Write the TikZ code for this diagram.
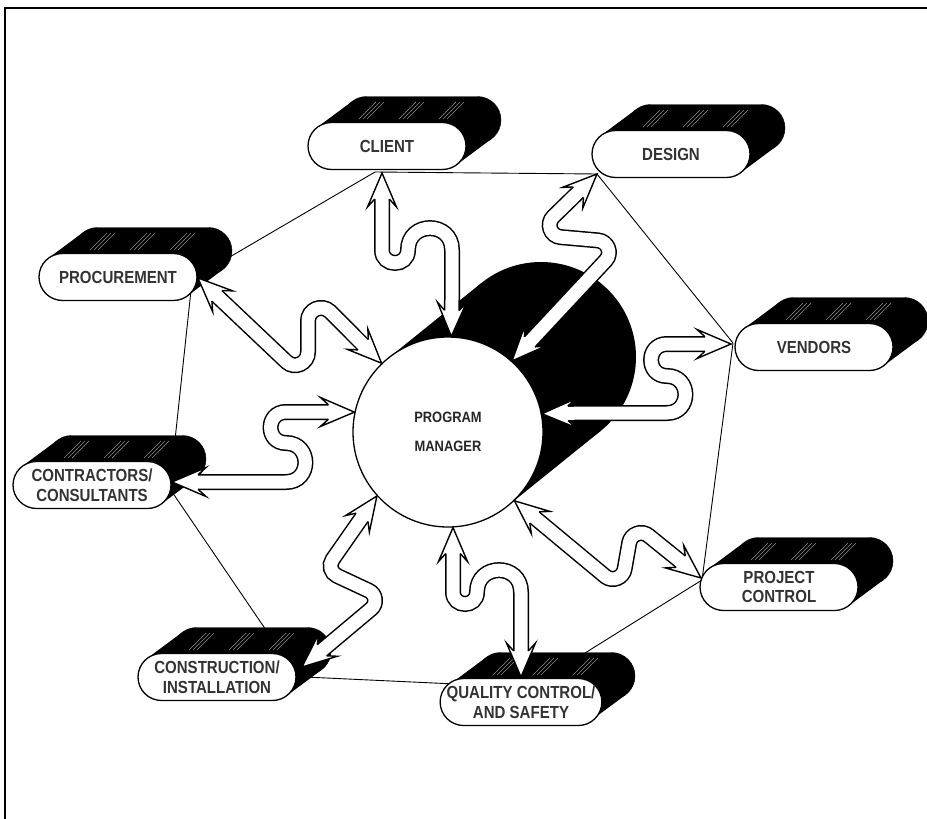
\documentclass[tikz,border=0pt]{standalone}
\usepackage{fontspec}
\newfontfamily\labfont[FakeStretch=0.86]{Liberation Sans}
\usetikzlibrary{calc,shapes.misc}
% arrow head: #1 tip, #2 a point on the shaft axis
\newcommand\ahead[2]{%
  \coordinate (hT) at (#1);
  \coordinate (hK) at ($(#1)!34pt!(#2)$);
  \coordinate (hM) at ($(#1)!26pt!(#2)$);
  \filldraw[headst] ($(hM)!7.25pt!90:(hT)$) -- ($(hK)!14.5pt!90:(hT)$) -- (hT)
     -- ($(hK)!14.5pt!-90:(hT)$) -- ($(hM)!7.25pt!-90:(hT)$);
}
% wavy double-headed arrow: #1 tip A, #2 axis point A, #3 middle, #4 axis point B, #5 tip B
\newcommand\wavy[5]{%
  \draw[shaftout] ($(#1)!22pt!(#2)$) -- (#2) #3 -- ($(#5)!22pt!(#4)$);
  \draw[shaftin]  ($(#1)!22pt!(#2)$) -- (#2) #3 -- ($(#5)!22pt!(#4)$);
  \ahead{#1}{#2}\ahead{#5}{#4}%
}
% extruded pill: #1 name, #2 centre, #3 text
\newcommand\pill[3]{%
  \node[pillshade] (#1-sh) at ($(#2)+(35,-26)$) {};
  \fill[black] ($(#2)+(-69.5,-18.9)$) -- ($(#2)+(-34.5,-44.9)$) -- ($(#2)+(104.5,-7.1)$) -- ($(#2)+(69.5,18.9)$) -- cycle;
  \foreach \sa in {-28,12,52}{\foreach \sb in {0,4,8}{%
    \draw[streak] ($(#2)+(\sa+\sb,-27)$) -- ++(17,-17);}}
  \node[pillbox] (#1) at (#2) {#3};
}
\begin{document}
\begin{tikzpicture}[x=1pt,y=-1pt,
  pillbox/.style={rounded rectangle, minimum width=158pt, minimum height=47pt, inner sep=0pt,
     draw=black, line width=1.3pt, fill=white, text=black!80, align=center,
     font=\labfont\bfseries\fontsize{17.5}{19.5}\selectfont},
  pillshade/.style={rounded rectangle, minimum width=158pt, minimum height=47pt, inner sep=0pt,
     fill=black, draw=black},
  hexline/.style={line width=0.9pt, black},
  framest/.style={line width=1.3pt, black},
  shaftout/.style={line width=16pt, black},
  shaftin/.style={line width=13pt, white},
  headst/.style={fill=white, draw=black, line width=1.4pt, line join=miter},
  streak/.style={black!45, line width=0.6pt},
  pmnode/.style={circle, draw=black, line width=1.3pt, fill=white, minimum size=190pt, inner sep=0pt,
     align=center, text=black!85, font=\labfont\bfseries\fontsize{15}{17}\selectfont}
]
\useasboundingbox (0,0) rectangle (927,819);
\fill[white] (0,0) rectangle (927,819);
\draw[framest] (5,819) -- (5,8) -- (927,8);

% hexagon vertices
\coordinate (vClient) at (375,172);
\coordinate (vDesign) at (597,174);
\coordinate (vVendors) at (733,343);
\coordinate (vProj) at (702,580);
\coordinate (vQualA) at (577,658);
\coordinate (vQualB) at (455,684);
\coordinate (vConsA) at (305,677);
\coordinate (vConsB) at (268,633);
\coordinate (vContA) at (168,486);
\coordinate (vContB) at (175,440);
\coordinate (vProcA) at (192,281);
\coordinate (vProcB) at (228,258);
\draw[hexline] (vClient) -- (vDesign);
\draw[hexline] (vDesign) -- (vVendors);
\draw[hexline] (vVendors) -- (vProj);
\draw[hexline] (vProj) -- (vQualA);
\draw[hexline] (vQualB) -- (vConsA);
\draw[hexline] (vConsB) -- (vContA);
\draw[hexline] (vContB) -- (vProcA);
\draw[hexline] (vProcB) -- (vClient);

% program manager with its shadow
\coordinate (cpm) at (448,432);
\fill[black] ($(cpm)+(93,-75)$) circle[radius=95pt];
\fill[black] ($(cpm)+(-59.7,-73.9)$) -- ($(cpm)+(33.3,-148.9)$) -- ($(cpm)+(152.7,-1.1)$) -- ($(cpm)+(59.7,73.9)$) -- cycle;
\node[pmnode] (pm) at (cpm) {PROGRAM\\[12pt]MANAGER};

% pills
\pill{client}{387,146}{CLIENT}
\pill{design}{671,154}{DESIGN}
\pill{procurement}{118,277}{PROCUREMENT}
\pill{vendors}{814,347}{VENDORS}
\pill{contractors}{92,485}{CONTRACTORS/\\CONSULTANTS}
\pill{projcontrol}{779,587}{PROJECT\\CONTROL}
\pill{construction}{217,677}{CONSTRUCTION/\\INSTALLATION}
\pill{quality}{521,702}{QUALITY CONTROL/\\AND SAFETY}

% arrow tips on the pills
\coordinate (tClient) at (382,173);
\coordinate (tDesign) at (597,174);
\coordinate (tVendors) at (731,344);
\coordinate (tProj) at (701,578);
\coordinate (tQuality) at (521,677);
\coordinate (tCons) at (302,667);
\coordinate (tCont) at (172,482);
\coordinate (tProc) at (198,278);

% wavy arrows (out/in angles are canvas angles: y up)
\wavy{tClient}{382,215}{-- (382,250) to[out=270,in=270,looseness=1.7] (408,250) to[out=90,in=90,looseness=1.7] (452,250) -- (452,300)}{452,300}{pm.88}
\wavy{tDesign}{553.3,216.6}{to[out=224.3,in=175,looseness=1.2] (560.6,237.1) -- (597.9,240.4) to[out=355,in=47,looseness=1.18] (605.7,260.5)}{605.7,260.5}{pm.48}
\wavy{tVendors}{700,344}{-- (667,344) to[out=180,in=180,looseness=1.7] (667,376) to[out=0,in=0,looseness=1.7] (667,413) -- (590,413)}{590,413}{pm.11}
\wavy{tProj}{648.9,535.9}{to[out=139,in=80,looseness=1.14] (629.2,542.9) -- (624.6,569.1) to[out=260,in=323,looseness=1.11] (605.6,576.6)}{605.6,576.6}{pm.-46}
\wavy{pm.-87}{453,560}{-- (453,592) to[out=270,in=270,looseness=1.7] (477,592) to[out=90,in=90,looseness=1.7] (521,592) -- (521,640)}{521,640}{tQuality}
\wavy{pm.222}{332.6,559.5}{to[out=235,in=155,looseness=1.04] (337.0,575.8) -- (368.7,590.6) to[out=335,in=40,looseness=1.11] (371.1,609.0)}{371.1,609.0}{tCons}
\wavy{pm.168}{320,412}{-- (286,412) to[out=180,in=180,looseness=1.7] (286,443) to[out=0,in=0,looseness=1.7] (286,482) -- (212,482)}{212,482}{tCont}
\wavy{tProc}{286.5,361.8}{to[out=317,in=270,looseness=1.22] (308,352) -- (308,321) to[out=90,in=137,looseness=1.22] (330,311.5)}{330,311.5}{pm.134}
\end{tikzpicture}
\end{document}
